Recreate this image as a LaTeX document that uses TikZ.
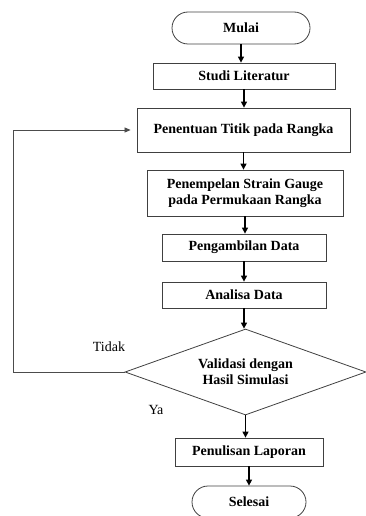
\documentclass[tikz,border=0pt]{standalone}
\usepackage{fontspec}
\setmainfont{Liberation Serif}
\usetikzlibrary{shapes.geometric,arrows.meta}
\begin{document}
\begin{tikzpicture}[x=1pt,y=-1pt,
  every node/.style={font=\fontsize{14}{16}\selectfont},
  box/.style={draw=black!75,line width=0.8pt,inner sep=0pt,font=\fontsize{14}{16}\selectfont\bfseries,align=center},
  term/.style={box,rounded corners=16pt,minimum height=32pt},
  dec/.style={box,diamond,aspect=2.8,minimum width=241pt,minimum height=86pt},
  flow/.style={line width=1.3pt,-{Triangle[length=6pt,width=6pt]}},
  fb/.style={draw=black!70,line width=0.7pt,-{Triangle[length=6pt,width=5pt]}},
  lbl/.style={font=\fontsize{14}{16}\selectfont}]
\useasboundingbox (0,0) rectangle (366,516);
\node[term,minimum width=138pt] (mulai) at (241,28) {Mulai};
\node[box,minimum width=182pt,minimum height=26pt] (studi) at (244,76) {Studi Literatur};
\node[box,minimum width=213pt,minimum height=44pt] (penentuan) at (243.5,130) {Penentuan Titik pada Rangka};
\node[box,minimum width=196pt,minimum height=46pt] (penempelan) at (245,193) {Penempelan Strain Gauge\\pada Permukaan Rangka};
\node[box,minimum width=164pt,minimum height=27pt] (pengambilan) at (244,247.5) {Pengambilan Data};
\node[box,minimum width=164pt,minimum height=26pt] (analisa) at (244,295) {Analisa Data};
\node[dec] (valid) at (245.5,372) {Validasi dengan\\Hasil Simulasi};
\node[box,minimum width=148pt,minimum height=28pt] (penulisan) at (249,452) {Penulisan Laporan};
\node[term,minimum width=114pt] (selesai) at (249,502) {Selesai};
\node[lbl] (tidak) at (109,347) {Tidak};
\node[lbl] (ya) at (156,410) {Ya};
\coordinate (fbx) at (13,0);
\draw[flow] (mulai.south) -- (mulai.south |- studi.north);
\draw[flow] (studi.south) -- (studi.south |- penentuan.north);
\draw[flow] (penentuan.south) -- (penentuan.south |- penempelan.north);
\draw[flow] (penempelan.south) -- (penempelan.south |- pengambilan.north);
\draw[flow] (pengambilan.south) -- (pengambilan.south |- analisa.north);
\draw[flow] (analisa.south) -- (analisa.south |- valid.north);
\draw[flow] (valid.south) -- (valid.south |- penulisan.north);
\draw[flow] (penulisan.south) -- (penulisan.south |- selesai.north);
\draw[fb] (valid.west) -- (valid.west -| fbx) -- (penentuan.west -| fbx) -- ([xshift=-6pt]penentuan.west);
\end{tikzpicture}
\end{document}
